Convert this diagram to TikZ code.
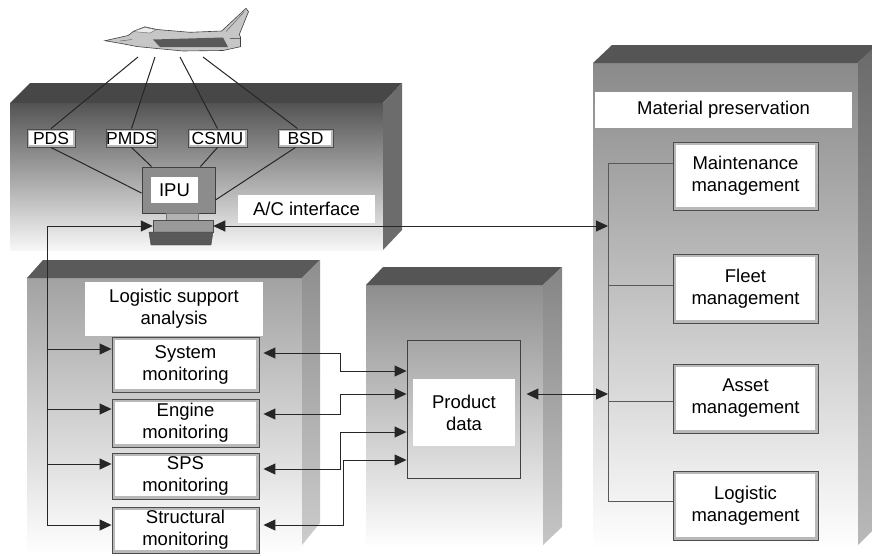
\documentclass[tikz,border=0pt]{standalone}
\usepackage{fontspec}
\setmainfont{Liberation Sans}
\usetikzlibrary{arrows.meta}
\newcommand\dfont{\fontsize{18.5}{22}\selectfont}
\definecolor{topA}{HTML}{474747}
\definecolor{faceA}{HTML}{545454}
\definecolor{sideA}{HTML}{6C6C6C}
\definecolor{topB}{HTML}{5A5A5A}
\definecolor{faceB}{HTML}{A2A2A2}
\definecolor{sideB}{HTML}{8E8E8E}
\definecolor{topC}{HTML}{555555}
\definecolor{faceC}{HTML}{8E8E8E}
\definecolor{sideC}{HTML}{858585}
\definecolor{faceD}{HTML}{8A8A8A}
\definecolor{sideD}{HTML}{6A6A6A}
\begin{document}
\begin{tikzpicture}[x=1pt,y=-1pt,
  conn/.style={draw=black!85, line width=1pt},
  arr/.style={conn, -{Triangle[length=12pt,width=11pt]}},
  darr/.style={conn, {Triangle[length=12pt,width=11pt]}-{Triangle[length=12pt,width=11pt]}},
  busline/.style={draw=black!65, line width=1pt},
  lbl/.style={fill=white, inner sep=0pt, align=center, font=\dfont},
  unitbox/.style={draw=black!70, line width=0.9pt, fill=gray!55, inner sep=0pt,
    align=center, font=\dfont,
    path picture={\fill[white]
      ([shift={(#1,#1)}]path picture bounding box.south west) rectangle
      ([shift={(-#1,-#1)}]path picture bounding box.north east);}},
  unitbox/.default=3pt,
  mbox/.style={unitbox, minimum width=147pt},
  rbox/.style={unitbox, minimum width=145pt, minimum height=69pt},
  sbox/.style={unitbox=2pt, minimum height=18pt, font=\fontsize{17.5}{20}\selectfont},
]
\useasboundingbox (0,0) rectangle (872,555);
\clip (0,0) rectangle (872,555);
\fill[white] (0,0) rectangle (872,555);

% ---- A/C interface block
\shade[top color=faceA, bottom color=white!97!black] (10,103) rectangle (383,250);
\fill[topA] (10,103) -- (30,83) -- (402,83) -- (383,103) -- cycle;
\fill[sideA] (383,103) -- (402,83) -- (402,230) -- (383,250) -- cycle;

% ---- Logistic support block
\shade[top color=faceB, bottom color=white] (27,278) rectangle (302,555);
\fill[topB] (27,278) -- (43,260) -- (320,260) -- (302,278) -- cycle;
\shade[top color=sideB, bottom color=gray!40] (302,278) -- (320,260) -- (320,523) -- (302,545) -- cycle;

% ---- Product data block
\shade[top color=faceC, bottom color=white] (366,285) rectangle (543,548);
\fill[topC] (366,285) -- (383,267) -- (562,267) -- (543,285) -- cycle;
\shade[top color=sideC, bottom color=gray!45] (543,285) -- (562,267) -- (562,527) -- (543,545) -- cycle;

% ---- Material preservation block
\shade[top color=faceD, bottom color=white] (593,63) rectangle (858,550);
\fill[topC] (593,63) -- (612,45) -- (877,45) -- (858,63) -- cycle;
\shade[top color=sideD, bottom color=gray!55] (858,63) -- (877,44) -- (877,526) -- (858,545) -- cycle;

% ---- aircraft
\filldraw[fill=gray!45, draw=black!75, line width=0.6pt]
  (105,40.7) -- (128,35.5) -- (134,31) -- (145,26.8) -- (157,29.5) -- (190,32.3)
  -- (221.7,31) -- (246,8.3) -- (248.5,11.7) -- (239.3,34.5) -- (240.5,37)
  -- (240.5,46.7) -- (223,50.5) -- (183,51) -- (156.7,48.5) -- (136.7,46.5)
  -- (124,44) -- cycle;
\filldraw[fill=gray!15, draw=black!60, line width=0.4pt]
  (133,31.5) -- (145,27.3) -- (156,29.8) -- (150,33) -- cycle;
\fill[black!65] (153,39.5) -- (223,37.5) -- (228,47) -- (160,47) -- cycle;
\draw[black!60, line width=0.5pt] (226,31.5) -- (244,12);
\draw[black!60, line width=0.5pt] (120,41) -- (132,39.5);
\draw[black!60, line width=0.5pt] (230,38) -- (240,38);
\coordinate (j1) at (138,57);
\coordinate (j2) at (155,57);
\coordinate (j3) at (180,57);
\coordinate (j4) at (203,57);

% ---- on-board units and IPU
\node[sbox, minimum width=48pt] (pds) at (51,138) {PDS};
\node[sbox, minimum width=51pt] (pmds) at (131.5,138) {PMDS};
\node[sbox, minimum width=59pt] (csmu) at (217.5,138) {CSMU};
\node[sbox, minimum width=55pt] (bsd) at (305.5,138) {BSD};

\node[draw=black!75, fill=black!45, line width=0.9pt, minimum width=73pt,
      minimum height=46pt, inner sep=0pt] (mon) at (178.5,190) {};
\node[lbl, minimum width=47pt, minimum height=26pt] (ipu) at (174.5,190) {IPU};
\fill[gray!60, draw=black!55, line width=0.4pt] (166,213) rectangle (198,220);
\node[draw=black!70, fill=black!40, line width=0.5pt, minimum width=60pt,
      minimum height=12pt, inner sep=0pt] (kb) at (183,226) {};
\filldraw[fill=black!65, draw=black!75, line width=0.4pt]
  (149,232) -- (213,232) -- (211,245) -- (151,245) -- cycle;

\node[lbl, minimum width=137pt, minimum height=28pt] (acif) at (306.5,209) {A/C interface};

% ---- logistic support analysis
\node[lbl, minimum width=178pt, minimum height=54pt] (lsa) at (174,309)
  {Logistic support\\analysis};
\node[mbox, minimum height=55pt] (sm1) at (185.5,364.5) {System\\monitoring};
\node[mbox, minimum height=48pt] (sm2) at (185.5,423) {Engine\\monitoring};
\node[mbox, minimum height=46pt] (sm3) at (185.5,476) {SPS\\monitoring};
\node[mbox, minimum height=46pt] (sm4) at (185.5,530) {Structural\\monitoring};

% ---- product data
\node[draw=black!75, line width=0.9pt, top color=gray!70, bottom color=gray!22,
      minimum width=113pt, minimum height=138pt, inner sep=0pt] (pd) at (463.5,409) {};
\node[lbl, minimum width=102pt, minimum height=67pt] (pdl) at (464,412.5) {Product\\data};

% ---- material preservation
\node[lbl, minimum width=257pt, minimum height=36pt] (mp) at (723.5,110) {Material preservation};
\node[rbox, minimum height=68pt] (maint) at (745.5,176) {Maintenance\\management};
\node[rbox] (fleet) at (745.5,288.5) {Fleet\\management};
\node[rbox] (asset) at (745.5,398.5) {Asset\\management};
\node[rbox] (logi) at (745.5,505.5) {Logistic\\management};

% ---- aircraft links
\draw[conn] (j1) -- (pds.north);
\draw[conn] (j2) -- (pmds.north);
\draw[conn] (j3) -- (csmu.north);
\draw[conn] (j4) -- ([xshift=-8pt]bsd.north);
\draw[conn] (pds.south) -- ([yshift=-3pt]mon.west);
\draw[conn] (pmds.south) -- ([xshift=10pt]mon.north west);
\draw[conn] (csmu.south) -- ([xshift=-15pt]mon.north east);
\draw[conn] ([xshift=-10pt]bsd.south) -- ([yshift=-10pt]mon.east);

% ---- material preservation bus
\coordinate (bt) at (608,163);
\coordinate (bf) at (608,285);
\coordinate (ba) at (608,401);
\coordinate (bb) at (608,501);
\coordinate (b1) at (608,226);
\coordinate (b2) at (608,394);
\draw[busline] (bt) -- (bb);
\draw[busline] (bt) -- (bt -| maint.west);
\draw[busline] (bf) -- (bf -| fleet.west);
\draw[busline] (ba) -- (ba -| asset.west);
\draw[busline] (bb) -- (bb -| logi.west);
\draw[darr] (kb.east) -- (b1);
\draw[darr, shorten <=6pt] (pd.east |- b2) -- (b2);

% ---- IPU distribution to monitoring
\coordinate (lv) at (47,226);
\coordinate (t1) at (47,349);
\coordinate (t2) at (47,409);
\coordinate (t3) at (47,464);
\coordinate (t4) at (47,525);
\draw[arr] (lv) -- (kb.west);
\draw[arr] (lv) |- (t4 -| sm4.west);
\draw[arr] (t1) -- (t1 -| sm1.west);
\draw[arr] (t2) -- (t2 -| sm2.west);
\draw[arr] (t3) -- (t3 -| sm3.west);

% ---- monitoring to product data
\draw[darr, shorten <=4pt] (sm1.east |- 0,353) -- (340,353) -- (340,371) -- (pd.west |- 0,371);
\draw[darr, shorten <=4pt] (sm2.east |- 0,414) -- (340,414) -- (340,394) -- (pd.west |- 0,394);
\draw[darr, shorten <=4pt] (sm3.east |- 0,469) -- (340,469) -- (340,432) -- (pd.west |- 0,432);
\draw[darr, shorten <=4pt] (sm4.east |- 0,525) -- (343,525) -- (343,460) -- (pd.west |- 0,460);
\end{tikzpicture}
\end{document}
